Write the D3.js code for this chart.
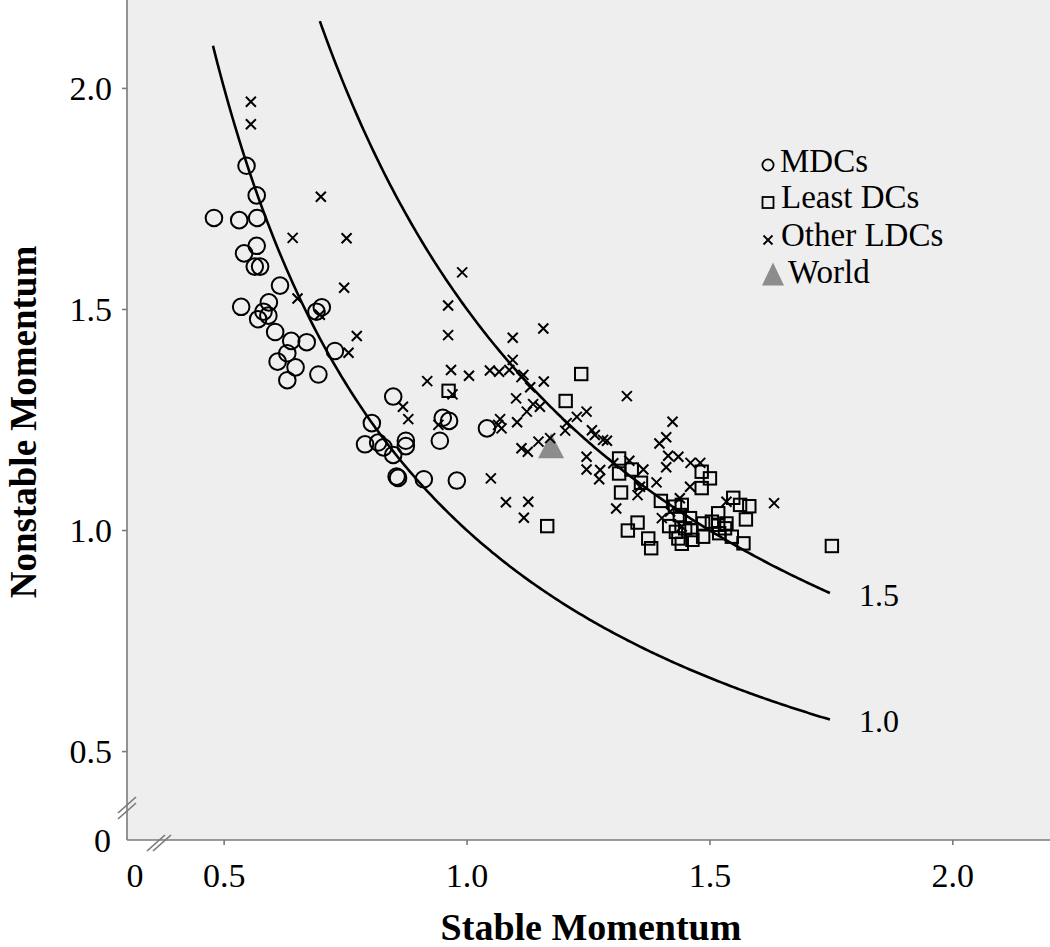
<!DOCTYPE html>
<html>
<head>
<meta charset="utf-8">
<script src="https://cdn.jsdelivr.net/npm/d3@7"></script>
<style>
  body { margin: 0; background: #fff; }
  svg { display: block; }
  text { font-family: "Liberation Serif", "Times New Roman", serif; fill: #000; }
</style>
</head>
<body>
<div id="chart"></div>
<script>
// Dados: [stable, nonstable]
var mdcs = [
  [0.479, 1.707], [0.531, 1.702], [0.568, 1.707], [0.546, 1.825], [0.567, 1.758],
  [0.567, 1.644], [0.541, 1.627], [0.563, 1.597], [0.574, 1.597], [0.615, 1.554],
  [0.535, 1.506], [0.592, 1.516], [0.581, 1.495], [0.591, 1.486], [0.570, 1.478],
  [0.701, 1.505], [0.690, 1.495], [0.605, 1.449], [0.638, 1.429], [0.670, 1.426],
  [0.630, 1.401], [0.610, 1.382], [0.647, 1.369], [0.630, 1.340], [0.694, 1.353],
  [0.728, 1.406], [0.848, 1.303], [0.804, 1.243], [0.790, 1.195], [0.817, 1.199],
  [0.828, 1.188], [0.848, 1.171], [0.874, 1.203], [0.874, 1.191], [0.855, 1.122],
  [0.858, 1.119], [0.911, 1.116], [0.979, 1.113], [0.944, 1.203], [0.950, 1.255],
  [0.963, 1.248], [1.041, 1.231]
]

var leastDCs = [
  [0.962, 1.316], [1.235, 1.354], [1.203, 1.293], [1.165, 1.010], [1.313, 1.163],
  [1.313, 1.129], [1.339, 1.138], [1.358, 1.108], [1.317, 1.086], [1.351, 1.018],
  [1.331, 1.000], [1.373, 0.982], [1.379, 0.960], [1.399, 1.067], [1.428, 1.054],
  [1.442, 1.058], [1.438, 1.035], [1.459, 1.028], [1.416, 1.010], [1.430, 0.997],
  [1.449, 1.005], [1.462, 1.001], [1.486, 1.016], [1.504, 1.020], [1.517, 1.039],
  [1.534, 1.016], [1.548, 1.074], [1.562, 1.058], [1.581, 1.055], [1.574, 1.025],
  [1.545, 0.986], [1.569, 0.971], [1.435, 0.982], [1.442, 0.970], [1.464, 0.979],
  [1.486, 0.986], [1.519, 0.994], [1.531, 1.005], [1.483, 1.133], [1.500, 1.118],
  [1.483, 1.096], [1.751, 0.965], [1.517, 1.013]
]

var otherLDCs = [
  [0.555, 1.970], [0.555, 1.919], [0.699, 1.755], [0.641, 1.662], [0.752, 1.661],
  [0.747, 1.549], [0.651, 1.525], [0.697, 1.488], [0.773, 1.440], [0.756, 1.402],
  [0.990, 1.584], [0.961, 1.509], [0.961, 1.442], [1.094, 1.436], [1.157, 1.457],
  [1.094, 1.386], [0.967, 1.363], [0.918, 1.338], [1.004, 1.350], [1.047, 1.362],
  [1.066, 1.359], [1.087, 1.363], [1.116, 1.352], [1.112, 1.347], [1.130, 1.324],
  [1.158, 1.337], [0.970, 1.308], [1.101, 1.299], [1.136, 1.286], [1.150, 1.280],
  [1.123, 1.269], [1.246, 1.269], [1.226, 1.257], [1.205, 1.243], [1.202, 1.226],
  [1.068, 1.252], [1.064, 1.239], [1.071, 1.231], [1.103, 1.245], [1.257, 1.227],
  [1.263, 1.216], [1.280, 1.205], [1.288, 1.203], [1.329, 1.304], [0.941, 1.239],
  [0.868, 1.280], [0.879, 1.252], [1.147, 1.201], [1.171, 1.209], [1.112, 1.186],
  [1.125, 1.178], [1.246, 1.167], [1.246, 1.138], [1.274, 1.137], [1.272, 1.116],
  [1.334, 1.158], [1.363, 1.138], [1.351, 1.080], [1.307, 1.050], [1.049, 1.118],
  [1.080, 1.064], [1.126, 1.065], [1.117, 1.029], [1.423, 1.246], [1.410, 1.211],
  [1.396, 1.197], [1.301, 1.152], [1.390, 1.109], [1.356, 1.099], [1.414, 1.169],
  [1.435, 1.167], [1.410, 1.143], [1.460, 1.153], [1.480, 1.153], [1.459, 1.099],
  [1.438, 1.073], [1.401, 1.028], [1.442, 1.009], [1.534, 1.065], [1.632, 1.062],
  [1.418, 1.043]
]

var world = [[1.173, 1.192]]

// Curvas de momentum total (stable * nonstable = k)
var curveLevels = [1.0, 1.5]
var curveStart = [0.477, 0.697]
var curveEnd = 1.75

var tickValues = [0.5, 1.0, 1.5, 2.0]

var width = 1050, height = 947
var plot = { left: 127, top: 0, right: 1050, bottom: 840 }

var svg = d3.select("#chart").append("svg")
  .attr("width", width)
  .attr("height", height)

var x = d3.scaleLinear().domain([0.3, 2.2]).range([plot.left, plot.right])
var y = d3.scaleLinear().domain([0.3, 2.2]).range([plot.bottom, plot.top])

// Fundo cinza
svg.append("rect")
  .attr("x", plot.left)
  .attr("y", plot.top)
  .attr("width", plot.right - plot.left)
  .attr("height", plot.bottom - plot.top)
  .attr("fill", "#eeeeee")

var axisColor = "#7a7a7a"

// Eixos
svg.append("line")
  .attr("x1", plot.left).attr("x2", plot.left)
  .attr("y1", plot.top).attr("y2", plot.bottom)
  .attr("stroke", axisColor).attr("stroke-width", 1.6)
svg.append("line")
  .attr("x1", plot.left).attr("x2", plot.right)
  .attr("y1", plot.bottom).attr("y2", plot.bottom)
  .attr("stroke", axisColor).attr("stroke-width", 1.6)

svg.selectAll(".ytick")
  .data(tickValues)
  .enter().append("line")
  .attr("x1", plot.left - 5).attr("x2", plot.left)
  .attr("y1", function(d) { return y(d) })
  .attr("y2", function(d) { return y(d) })
  .attr("stroke", axisColor).attr("stroke-width", 1.6)

svg.selectAll(".xtick")
  .data(tickValues)
  .enter().append("line")
  .attr("y1", plot.bottom).attr("y2", plot.bottom + 5)
  .attr("x1", function(d) { return x(d) })
  .attr("x2", function(d) { return x(d) })
  .attr("stroke", axisColor).attr("stroke-width", 1.6)

var fmt = d3.format(".1f")

svg.selectAll(".ylabel")
  .data(tickValues)
  .enter().append("text")
  .attr("x", 112)
  .attr("y", function(d) { return y(d) })
  .attr("dy", "0.35em")
  .attr("text-anchor", "end")
  .attr("font-size", 34)
  .text(fmt)

svg.selectAll(".xlabel")
  .data(tickValues)
  .enter().append("text")
  .attr("x", function(d) { return x(d) })
  .attr("y", 887)
  .attr("text-anchor", "middle")
  .attr("font-size", 34)
  .text(fmt)

// Zeros do eixo quebrado
svg.append("text")
  .attr("x", 111).attr("y", plot.bottom).attr("dy", "0.35em")
  .attr("text-anchor", "end").attr("font-size", 34)
  .text("0")
svg.append("text")
  .attr("x", 135).attr("y", 887)
  .attr("text-anchor", "middle").attr("font-size", 34)
  .text("0")

// Marcas de quebra
function breakMark(cx, cy, dx, dy) {
  [-1, 1].forEach(function(s) {
    svg.append("line")
      .attr("x1", cx - 9 + s * dx).attr("y1", cy + 8 + s * dy)
      .attr("x2", cx + 9 + s * dx).attr("y2", cy - 8 + s * dy)
      .attr("stroke", axisColor).attr("stroke-width", 1.6)
  })
}
breakMark(plot.left, 808, 0, 3)
breakMark(159, 843, 3, 0)

// Curvas
var line = d3.line()
  .x(function(d) { return x(d[0]) })
  .y(function(d) { return y(d[1]) })

curveLevels.forEach(function(k, i) {
  var pts = d3.range(curveStart[i], curveEnd + 0.0001, 0.005).map(function(s) {
    return [s, k / s]
  })
  svg.append("path")
    .attr("d", line(pts))
    .attr("fill", "none")
    .attr("stroke", "#000")
    .attr("stroke-width", 2.6)
  svg.append("text")
    .attr("x", 859)
    .attr("y", y(k / curveEnd) + 12)
    .attr("font-size", 32)
    .text(fmt(k))
})

// Pontos
var g = svg.append("g")

g.selectAll(".mdc")
  .data(mdcs)
  .enter().append("circle")
  .attr("cx", function(d) { return x(d[0]) })
  .attr("cy", function(d) { return y(d[1]) })
  .attr("r", 8.3)
  .attr("fill", "none")
  .attr("stroke", "#000")
  .attr("stroke-width", 2)

g.selectAll(".least")
  .data(leastDCs)
  .enter().append("rect")
  .attr("x", function(d) { return x(d[0]) - 6.2 })
  .attr("y", function(d) { return y(d[1]) - 6.2 })
  .attr("width", 12.4)
  .attr("height", 12.4)
  .attr("fill", "none")
  .attr("stroke", "#000")
  .attr("stroke-width", 2)

function triPath(cx, cy, w, h) {
  return "M" + cx + "," + (cy - h / 2) + "L" + (cx + w / 2) + "," + (cy + h / 2) +
    "L" + (cx - w / 2) + "," + (cy + h / 2) + "Z"
}

g.selectAll(".world")
  .data(world)
  .enter().append("path")
  .attr("d", function(d) { return triPath(x(d[0]), y(d[1]), 26, 25) })
  .attr("fill", "#8c8c8c")

function crossPath(cx, cy, s) {
  return "M" + (cx - s) + "," + (cy - s) + "L" + (cx + s) + "," + (cy + s) +
    "M" + (cx - s) + "," + (cy + s) + "L" + (cx + s) + "," + (cy - s)
}

g.selectAll(".other")
  .data(otherLDCs)
  .enter().append("path")
  .attr("d", function(d) { return crossPath(x(d[0]), y(d[1]), 5) })
  .attr("stroke", "#000")
  .attr("stroke-width", 2)

// Legenda
var legend = svg.append("g")
legend.append("circle")
  .attr("cx", 768).attr("cy", 165).attr("r", 5.6)
  .attr("fill", "none").attr("stroke", "#000").attr("stroke-width", 1.8)
legend.append("rect")
  .attr("x", 762.5).attr("y", 197).attr("width", 11).attr("height", 11)
  .attr("fill", "none").attr("stroke", "#000").attr("stroke-width", 1.8)
legend.append("path")
  .attr("d", crossPath(768, 240, 4.5))
  .attr("stroke", "#000").attr("stroke-width", 1.8)
legend.append("path")
  .attr("d", triPath(773, 274, 22, 23))
  .attr("fill", "#8c8c8c")

var legendLabels = ["MDCs", "Least DCs", "Other LDCs", "World"]
var legendX = [780, 781, 781, 788]
var legendY = [172, 208, 246, 283]
legend.selectAll(".leg")
  .data(legendLabels)
  .enter().append("text")
  .attr("x", function(d, i) { return legendX[i] })
  .attr("y", function(d, i) { return legendY[i] })
  .attr("font-size", 33)
  .text(function(d) { return d })

// Títulos dos eixos
svg.append("text")
  .attr("x", 591)
  .attr("y", 940)
  .attr("text-anchor", "middle")
  .attr("font-weight", "bold")
  .attr("font-size", 38)
  .text("Stable Momentum")

svg.append("text")
  .attr("transform", "translate(36,422) rotate(-90)")
  .attr("text-anchor", "middle")
  .attr("font-weight", "bold")
  .attr("font-size", 37)
  .text("Nonstable Momentum")
</script>
</body>
</html>
